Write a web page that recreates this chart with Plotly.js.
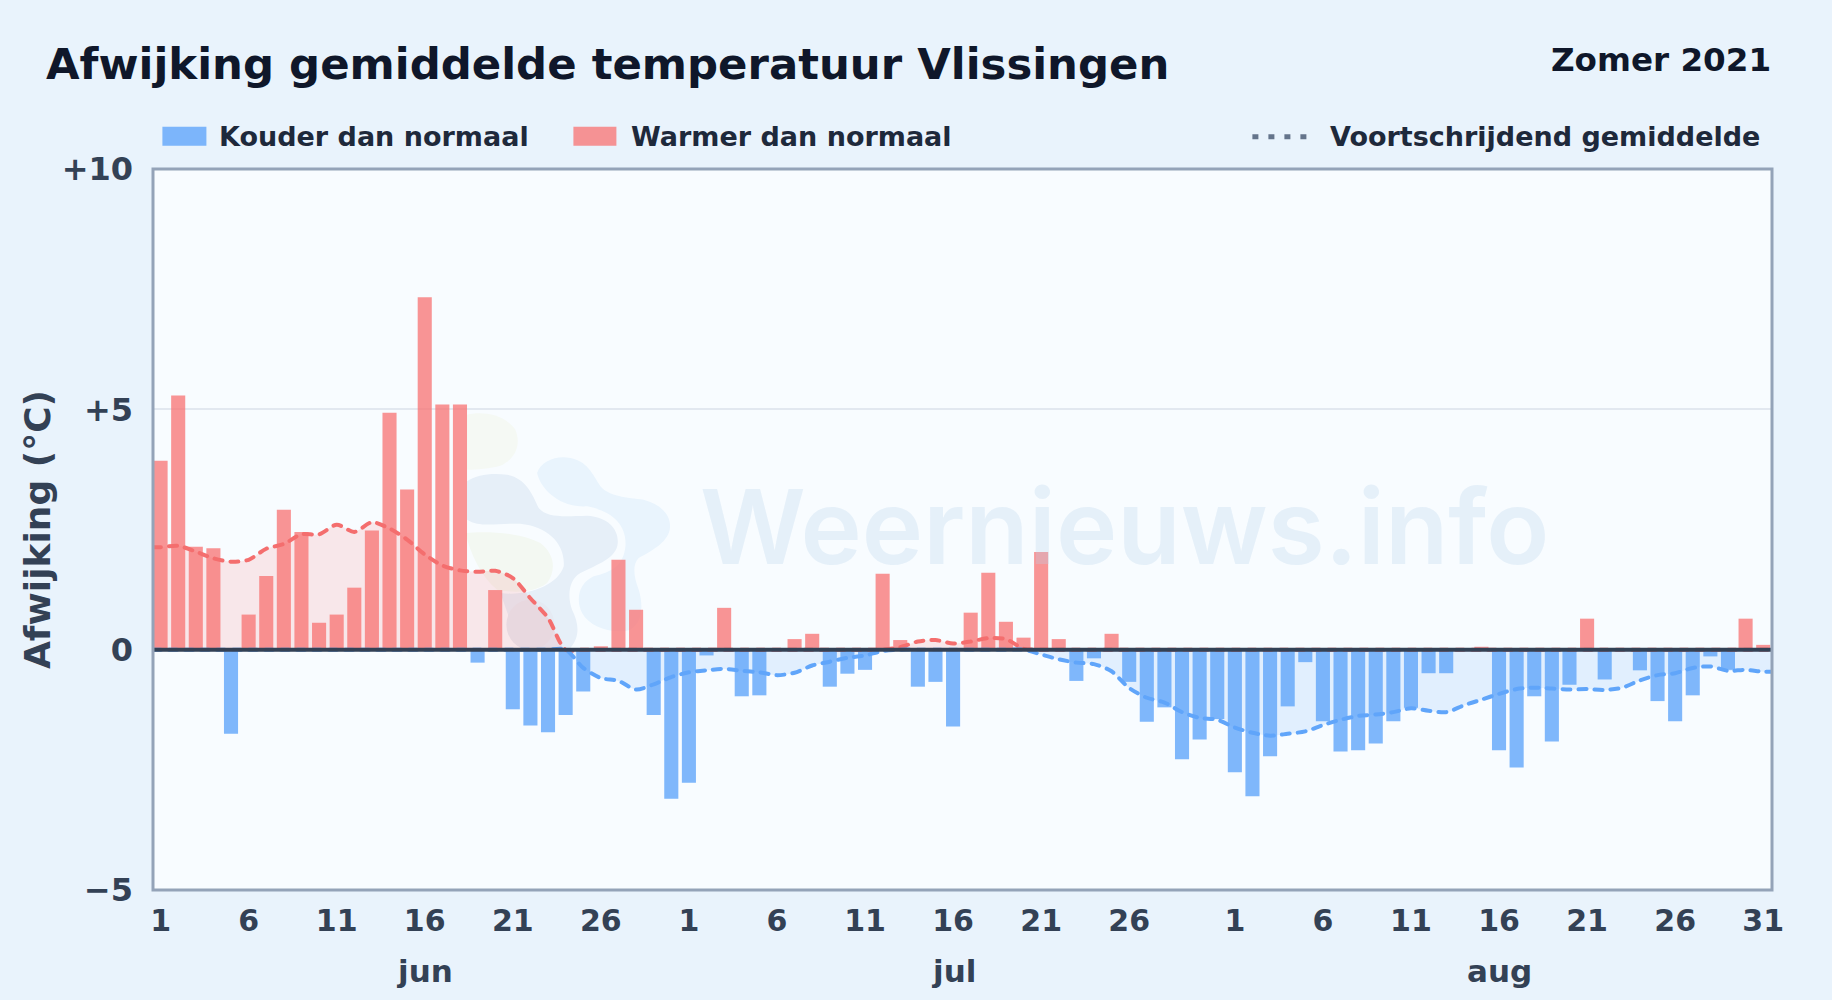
<!DOCTYPE html>
<html><head><meta charset="utf-8">
<script src="https://cdn.plot.ly/plotly-3.0.1.min.js"></script>
<style>html,body{margin:0;padding:0;background:#e9f3fc}#c{width:1832px;height:1000px}.js-line{stroke-linecap:round}</style>
</head><body><div id="c"></div>
<script>
const monthNames=['jun','jul','aug'];
const monthLengths=[30,31,31];
const monthLabelDay=['jun 16','jul 16','aug 16'];
const tickDays=[
 'jun 1','jun 6','jun 11','jun 16','jun 21','jun 26',
 'jul 1','jul 6','jul 11','jul 16','jul 21','jul 26',
 'aug 1','aug 6','aug 11','aug 16','aug 21','aug 26','aug 31'];
const tickLabels=['1','6','11','16','21','26','1','6','11','16','21','26','1','6','11','16','21','26','31'];
const yTicks=[-5,0,5,10];
const yTickLabels=['\u22125','0','+5','+10'];

const juneDev=[3.93,5.29,2.14,2.11,-1.75,0.73,1.53,2.91,2.45,0.56,0.73,1.29,2.48,4.93,3.33,7.33,5.1,5.1,-0.27,1.24,-1.24,-1.58,-1.72,-1.36,-0.87,0.07,1.87,0.83,-1.36,-3.1];
const julyDev=[-2.77,-0.12,0.87,-0.97,-0.95,0,0.22,0.33,-0.77,-0.5,-0.42,1.58,0.2,-0.77,-0.67,-1.6,0.77,1.6,0.58,0.25,2.03,0.22,-0.65,-0.18,0.33,-0.67,-1.5,-1.2,-2.28,-1.87,-1.44];
const augDev=[-2.55,-3.05,-2.22,-1.18,-0.26,-1.49,-2.12,-2.09,-1.95,-1.49,-1.21,-0.49,-0.49,0,0.06,-2.09,-2.45,-0.97,-1.91,-0.73,0.645,-0.62,0,-0.43,-1.07,-1.49,-0.95,-0.14,-0.42,0.645,0.1];

const juneAvg=[2.13,2.16,2.04,1.9,1.83,1.87,2.1,2.2,2.4,2.4,2.6,2.45,2.65,2.52,2.29,1.98,1.75,1.65,1.62,1.64,1.49,1.07,0.66,0,-0.38,-0.59,-0.65,-0.83,-0.72,-0.57];
const julyAvg=[-0.47,-0.43,-0.4,-0.44,-0.47,-0.53,-0.48,-0.33,-0.25,-0.17,-0.12,-0.03,0.05,0.17,0.2,0.13,0.17,0.24,0.22,0.02,-0.1,-0.2,-0.27,-0.3,-0.45,-0.8,-1.0,-1.1,-1.3,-1.42,-1.46];
const augAvg=[-1.62,-1.73,-1.79,-1.75,-1.7,-1.57,-1.46,-1.38,-1.35,-1.3,-1.22,-1.27,-1.3,-1.16,-1.04,-0.92,-0.82,-0.79,-0.81,-0.83,-0.82,-0.84,-0.79,-0.64,-0.53,-0.49,-0.38,-0.35,-0.44,-0.42,-0.46];

const days=[];monthNames.forEach((m,i)=>{for(let d=1;d<=monthLengths[i];d++)days.push(m+' '+d);});
const dayIdx=days.map((_,i)=>i);
const dev=[...juneDev,...julyDev,...augDev];
const avg=[...juneAvg,...julyAvg,...augAvg];

const W=1832,H=1000,L=152.6,R=1771.6,T=169.3,B=890.3;
const xRange=[-0.43,91.5];
const avgX=[xRange[0],...dayIdx,xRange[1]];
const avgY=[avg[0],...avg,avg[avg.length-1]];
const px=x=>(x-L)/(R-L), py=y=>1-(y-T)/(B-T);
const FONT='"DejaVu Sans", sans-serif';
const COLD='#60a5fa',WARM='#f87171';

const logo=`<svg xmlns="http://www.w3.org/2000/svg" viewBox="0 0 1500 900" width="500" height="300">
<path fill="#e9f4fd" d="M410 280C420 245 470 225 510 235C560 245 575 280 600 320C625 350 680 355 730 360C785 375 815 410 808 450C800 490 750 515 715 535C695 555 700 590 715 630C730 680 725 730 690 750C640 765 570 745 545 700C525 660 535 610 580 590C630 578 670 560 675 500C680 440 640 395 560 380C490 385 425 340 410 280Z"/>
<path fill="#e6eff8" d="M200 305C230 285 270 280 320 285C375 295 395 340 415 385C440 415 490 410 560 408C625 412 655 450 652 490C650 535 590 555 540 580C505 600 500 650 515 690C535 730 540 770 510 805L360 810L300 640C380 650 470 620 490 560C495 490 440 440 360 432C290 430 240 445 200 420Z"/>
<path fill="#f5f9f4" d="M200 105C240 95 310 100 345 150C365 200 340 240 300 258C270 266 230 270 200 270Z"/>
<path fill="#f3f8f2" d="M195 460C250 455 350 455 420 490C460 520 470 570 440 610C400 640 340 640 290 630C240 590 210 520 195 460Z"/>
<ellipse cx="390" cy="735" rx="72" ry="75" fill="#e5eaf3"/>
</svg>`;

const traces=[
 {type:'bar',name:'Kouder dan normaal',x:dayIdx,y:dev.map(v=>v<0?v:null),width:0.8,marker:{color:COLD,opacity:0.8,line:{width:0}},showlegend:false},
 {type:'bar',name:'Warmer dan normaal',x:dayIdx,y:dev.map(v=>v>0?v:null),width:0.8,marker:{color:WARM,opacity:0.75,line:{width:0}},showlegend:false},
 {type:'scatter',mode:'lines',name:'Voortschrijdend gemiddelde (warm)',x:avgX,y:avgY.map(v=>Math.max(v,0)),fill:'tozeroy',fillcolor:'rgba(248,113,113,0.15)',line:{color:'#f46e6e',width:4,dash:'8px,8px',shape:'spline',smoothing:0.8},showlegend:false},
 {type:'scatter',mode:'lines',name:'Voortschrijdend gemiddelde (koud)',x:avgX,y:avgY.map(v=>Math.min(v,0)),fill:'tozeroy',fillcolor:'rgba(96,165,250,0.15)',line:{color:COLD,width:4,dash:'8px,8px',shape:'spline',smoothing:0.8},showlegend:false}
];

const txt=(text,x,y,size,color,anchor,extra)=>Object.assign({xref:'paper',yref:'paper',x:px(x),y:py(y),text,showarrow:false,xanchor:anchor||'left',yanchor:'middle',font:{family:FONT,size,color,weight:700}},extra||{});

const layout={
 width:W,height:H,
 paper_bgcolor:'#e9f3fc',plot_bgcolor:'#f8fcff',
 margin:{l:L,r:W-R,t:T,b:H-B,pad:0},
 font:{family:FONT},
 showlegend:false,barmode:'overlay',
 title:{text:'Afwijking gemiddelde temperatuur Vlissingen',x:46/W,xanchor:'left',xref:'container',y:1-64/H,yanchor:'middle',font:{family:FONT,size:43.4,color:'#0f172a',weight:700}},
 xaxis:{range:xRange,tickmode:'array',tickvals:tickDays.map(d=>days.indexOf(d)),ticktext:tickLabels,showgrid:false,zeroline:false,ticks:'',ticklabelstandoff:10,tickfont:{family:FONT,size:30,color:'#334155',weight:700},showline:false},
 yaxis:{range:[-5,10],tickmode:'array',tickvals:yTicks,ticktext:yTickLabels,gridcolor:'#e2e8f0',gridwidth:2,zeroline:false,ticks:'',ticklabelstandoff:19,tickfont:{family:FONT,size:32,color:'#334155',weight:700},showline:false,
  title:{text:'Afwijking (\u00b0C)',standoff:0,font:{family:FONT,size:36,color:'#334155',weight:700}}},
 images:[{source:'data:image/svg+xml;charset=utf-8,'+encodeURIComponent(logo),xref:'paper',yref:'paper',x:px(400),y:py(380),sizex:500/(R-L),sizey:300/(B-T),sizing:'stretch',xanchor:'left',yanchor:'top',layer:'below'}],
 shapes:[
  {type:'line',xref:'paper',yref:'y',x0:0,x1:1,y0:0,y1:0,line:{color:'#334155',width:4},layer:'above'},
  {type:'rect',xref:'paper',yref:'paper',x0:0,x1:1,y0:0,y1:1,line:{color:'#94a3b8',width:3},layer:'above'},
  {type:'rect',xref:'paper',yref:'paper',x0:px(162),x1:px(206),y0:py(127),y1:py(146),fillcolor:COLD,opacity:0.8,line:{width:0}},
  {type:'rect',xref:'paper',yref:'paper',x0:px(573),x1:px(616),y0:py(127),y1:py(146),fillcolor:WARM,opacity:0.75,line:{width:0}},
  {type:'line',xref:'paper',yref:'paper',x0:px(1252),x1:px(1307),y0:py(137),y1:py(137),line:{color:'#64748b',width:5,dash:'6px,10px'}}
 ],
 annotations:[
  txt('Zomer 2021',1773,60,32.6,'#0f172a','right'),
  txt('Kouder dan normaal',216.5,137,27,'#1e293b'),
  txt('Warmer dan normaal',628.5,137,27,'#1e293b'),
  txt('Voortschrijdend gemiddelde',1762,137,27,'#1e293b','right'),
  {xref:'paper',yref:'paper',x:px(1124),y:py(527),text:'Weernieuws.info',showarrow:false,xanchor:'center',yanchor:'middle',font:{family:'Inter, sans-serif',size:103.7,color:'rgba(186,212,236,0.3)',weight:600}},
  ...monthNames.map((m,i)=>({xref:'x',yref:'paper',x:days.indexOf(monthLabelDay[i]),y:py(971),text:m,showarrow:false,xanchor:'center',yanchor:'middle',font:{family:FONT,size:31,color:'#334155',weight:700}}))
 ]
};
Plotly.newPlot('c',traces,layout,{displayModeBar:false,staticPlot:true});
</script></body></html>
